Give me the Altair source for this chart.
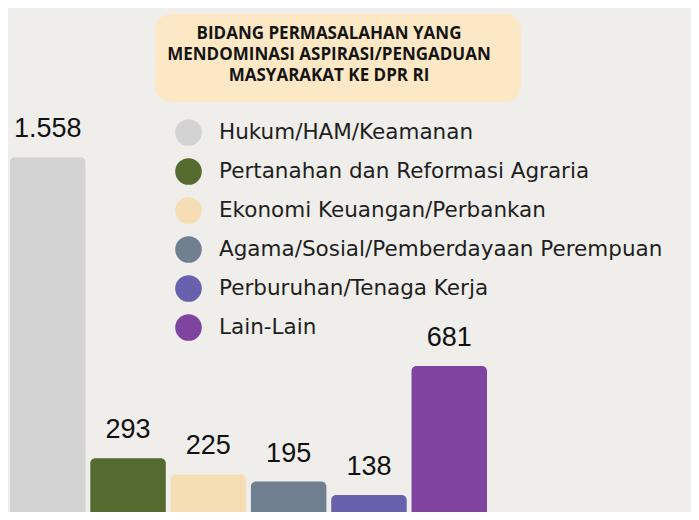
import altair as alt
import pandas as pd

categories = [
    "Hukum/HAM/Keamanan",
    "Pertanahan dan Reformasi Agraria",
    "Ekonomi Keuangan/Perbankan",
    "Agama/Sosial/Pemberdayaan Perempuan",
    "Perburuhan/Tenaga Kerja",
    "Lain-Lain",
]
values = [1558, 293, 225, 195, 138, 681]
labels = ["1.558", "293", "225", "195", "138", "681"]
colors = ["#d3d3d3", "#556b2f", "#f5deb3", "#708090", "#6861ae", "#7f44a0"]
title_lines = [
    "BIDANG PERMASALAHAN YANG",
    "MENDOMINASI ASPIRASI/PENGADUAN",
    "MASYARAKAT KE DPR RI",
]

df = pd.DataFrame({"kategori": categories, "nilai": values, "label": labels})

W, H = 683, 504

x_enc = alt.X(
    "kategori:N",
    sort=categories,
    scale=alt.Scale(domain=categories, range=[2, 479], paddingInner=0.06, paddingOuter=0),
    axis=None,
)
y_enc = alt.Y(
    "nilai:Q",
    scale=alt.Scale(domain=[67, 2185], zero=False, nice=False),
    axis=None,
)

base = alt.Chart(df)

bars = base.mark_bar(
    cornerRadiusTopLeft=5, cornerRadiusTopRight=5, clip=True
).encode(
    x=x_enc,
    y=y_enc,
    y2=alt.datum(0),
    color=alt.Color(
        "kategori:N",
        sort=categories,
        scale=alt.Scale(domain=categories, range=colors),
        legend=alt.Legend(
            title=None,
            orient="none",
            legendX=167,
            legendY=111,
            direction="vertical",
            symbolType="circle",
            symbolSize=707,
            symbolStrokeWidth=0,
            symbolOpacity=1,
            labelFont="DejaVu Sans",
            labelFontSize=21.5,
            labelColor="#1e1e1e",
            labelOffset=17,
            labelLimit=600,
            rowPadding=12,
            padding=0,
        ),
    ),
)

texts = base.mark_text(
    baseline="bottom", dy=-14, fontSize=27, font="Liberation Sans", color="#111111"
).encode(x=x_enc, y=y_enc, text="label:N")

banner = alt.Chart(pd.DataFrame({"t": ["banner"]})).mark_rect(
    color="#fde8c6", cornerRadius=16
).encode(
    x=alt.value(147), x2=alt.value(513), y=alt.value(6), y2=alt.value(94)
)

title_df = pd.DataFrame({"line": title_lines, "i": [0, 1, 2]})
title = alt.Chart(title_df).mark_text(
    font="Open Sans", fontWeight="bold", fontSize=17, color="#141414",
    baseline="alphabetic", align="center",
).encode(
    x=alt.value(321),
    y=alt.Y("i:O", scale=alt.Scale(domain=[0, 1, 2], range=[31, 73], padding=0), axis=None),
    text="line:N",
)

chart = alt.layer(banner, title, bars, texts).properties(
    width=W, height=H, padding=0,
    autosize=alt.AutoSizeParams(type="none"),
    background="#efeeeb",
).configure_view(stroke=None).resolve_scale(y="independent")

chart.save("out.html", embed_options={"renderer": "svg", "actions": False})
